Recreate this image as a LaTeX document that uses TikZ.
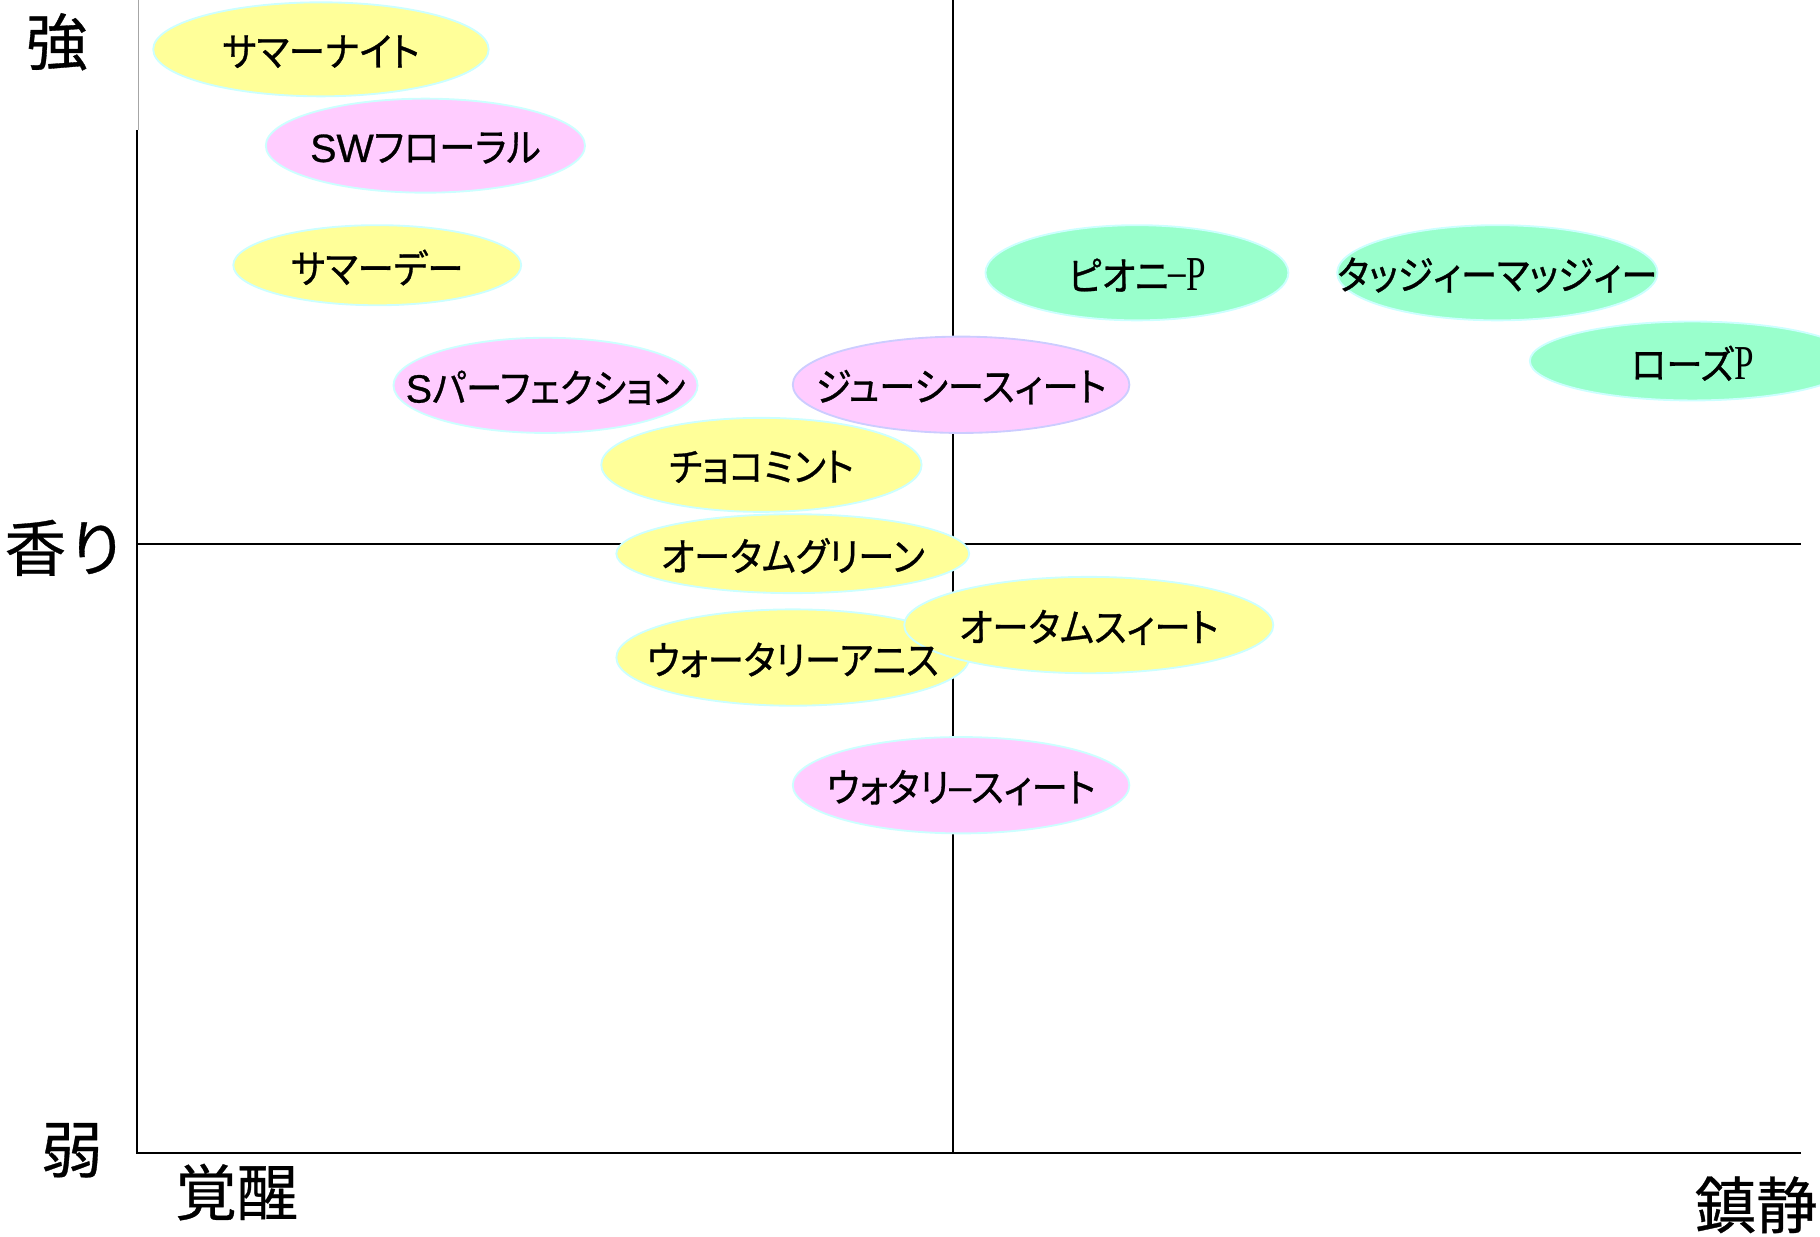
\documentclass[tikz,border=0pt]{standalone}
\usepackage{fontspec}
\setmainfont{Noto Sans CJK JP}
\newfontfamily\jp[FakeStretch=0.92,FakeBold=0.8,RawFeature=+palt]{Noto Sans CJK JP}
\newfontfamily\jpax[FakeBold=0.5]{Noto Sans CJK JP}
\newfontfamily\ser[FakeStretch=0.72]{Liberation Serif}
\newfontfamily\lsans[FakeBold=0.8]{Liberation Sans}
\usetikzlibrary{shapes.geometric}
\definecolor{cyel}{HTML}{FFFF99}
\definecolor{cpink}{HTML}{FFCCFF}
\definecolor{cgrn}{HTML}{99FFCC}
\definecolor{cbd}{HTML}{CCFFFF}
\definecolor{cbdl}{HTML}{CCCCFF}
\newcommand\serP[1]{{\ser\fontsize{21}{21}\selectfont #1}}
\tikzset{
  blob/.style={ellipse, draw=cbd, line width=0.8pt, inner sep=0pt},
  yelblob/.style={blob, fill=cyel},
  pinkblob/.style={blob, fill=cpink},
  grnblob/.style={blob, fill=cgrn},
  lab/.style={font=\jp\fontsize{17}{17}\selectfont, inner sep=0pt, yshift=-1pt},
  axlab/.style={font=\jpax\fontsize{26.5}{26.5}\selectfont, inner sep=0pt},
  axisline/.style={line width=0.9pt, black},
  thinline/.style={line width=0.5pt, gray!70}
}
\begin{document}
\begin{tikzpicture}[x=0.5pt,y=-0.5pt]
\useasboundingbox (0,0) rectangle (1568,1065);
\clip (0,0) rectangle (1568,1065);
% axes
\coordinate (gt) at (119.5,0);
\coordinate (gb) at (119.5,112);
\coordinate (lt) at (118,112);
\coordinate (o) at (118,993);
\coordinate (br) at (1552,993);
\coordinate (ml) at (118,469);
\coordinate (mr) at (1552,469);
\coordinate (vt) at (821,0);
\coordinate (vb) at (821,993);
\draw[thinline] (gt) -- (gb);
\draw[axisline] (lt) -- (o) -- (br);
\draw[axisline] (ml) -- (mr);
\draw[axisline] (vt) -- (vb);
% ellipses
\node[yelblob, minimum width=144.5pt, minimum height=40.5pt] (e1) at (276.5,42.5) {};
\node[pinkblob, minimum width=137.5pt, minimum height=40.5pt] (e2) at (366.5,125.5) {};
\node[yelblob, minimum width=124pt, minimum height=34.5pt] (e3) at (325,228.5) {};
\node[pinkblob, minimum width=131pt, minimum height=41pt] (e4) at (470,332) {};
\node[pinkblob, draw=cbdl, minimum width=145pt, minimum height=41.5pt] (e5) at (828,331.5) {};
\node[yelblob, minimum width=138pt, minimum height=40.5pt] (e6) at (656,400.5) {};
\node[yelblob, minimum width=152pt, minimum height=34pt] (e7) at (683,477) {};
\node[yelblob, minimum width=152pt, minimum height=41.5pt] (e8) at (683,566.5) {};
\node[yelblob, minimum width=159pt, minimum height=41.5pt] (e9) at (938,538.5) {};
\node[pinkblob, minimum width=145pt, minimum height=41.5pt] (e10) at (828,676.5) {};
\node[grnblob, minimum width=130.5pt, minimum height=41pt] (e11) at (979.5,235) {};
\node[grnblob, minimum width=138pt, minimum height=41pt] (e12) at (1290,235) {};
\node[grnblob, minimum width=140pt, minimum height=34pt] (e13) at (1458,311) {};
% labels
\node[lab] (t1) at (e1) {サマーナイト};
\node[lab] (t2) at (e2) {{\lsans SW}フローラル};
\node[lab] (t3) at (e3) {サマーデー};
\node[lab] (t4) at (e4) {{\lsans S}パーフェクション};
\node[lab] (t5) at (e5) {ジューシースィート};
\node[lab] (t6) at (e6) {チョコミント};
\node[lab] (t7) at (e7) {オータムグリーン};
\node[lab] (t8) at (e8) {ウォータリーアニス};
\node[lab] (t9) at (e9) {オータムスィート};
\node[lab] (t10) at (e10) {ウォタリ\raisebox{1pt}{\lsans –}スィート};
\node[lab] (t11) at (e11) {ピオニ\raisebox{1.5pt}{\serP{–}}\serP{P}};
\node[lab] (t12) at (e12) {タッジィーマッジィー};
\node[lab] (t13) at (e13) {ローズ\serP{P}};
% axis labels
\node[axlab] (a1) at (49,36) {強};
\node[axlab] (a2) at (57,472) {香り};
\node[axlab] (a3) at (62,991) {弱};
\node[axlab] (a4) at (204,1027) {覚醒};
\node[axlab] (a5) at (1513,1038) {鎮静};
\end{tikzpicture}
\end{document}
